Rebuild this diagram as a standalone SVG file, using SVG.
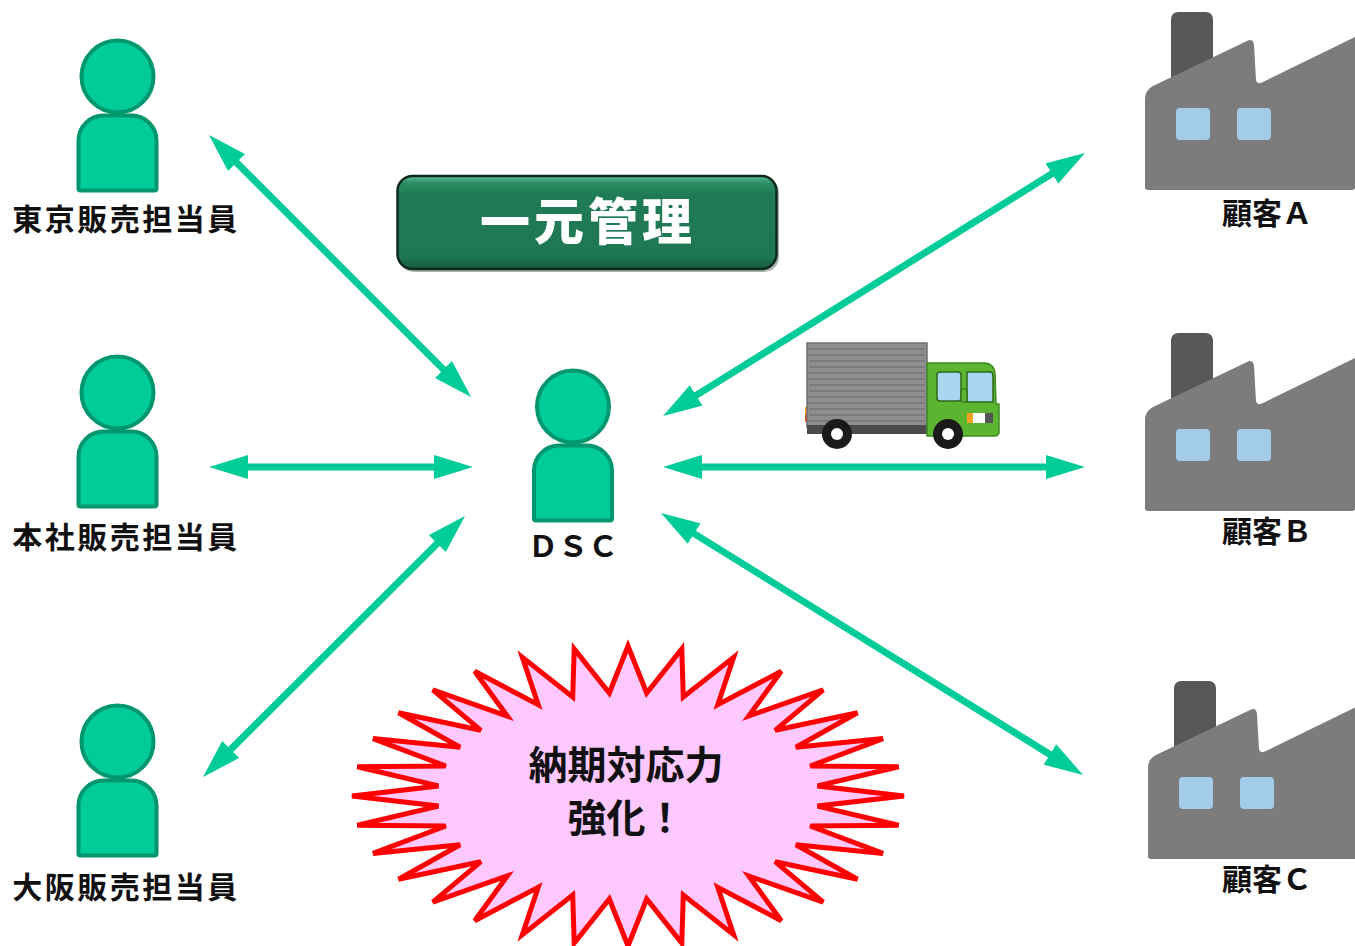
<svg xmlns="http://www.w3.org/2000/svg" width="1355" height="946" viewBox="0 0 1355 946">
  <defs>
    <style>
      .lbl { font-family: "Noto Sans CJK JP", "Noto Sans", sans-serif; font-weight: 700; fill: #111; }
      .person-body, .person-head { fill: #00CC99; stroke: #00976F; stroke-width: 4; }
      .link { stroke: #00CC99; stroke-width: 7; fill: none; marker-start: url(#head); marker-end: url(#head); }
      .plant { fill: #7C7C7C; }
      .stack { fill: #575757; }
      .pane { fill: #A3CBEA; }
    </style>
    <marker id="head" viewBox="0 0 39 24" markerWidth="39" markerHeight="24" refX="19" refY="12" orient="auto-start-reverse" markerUnits="userSpaceOnUse">
      <path d="M0,0 L39,12 L0,24 Z" fill="#00CC99"/>
    </marker>
    <linearGradient id="boxFill" x1="0" y1="0" x2="0" y2="1">
      <stop offset="0" stop-color="#5CBF94"/>
      <stop offset="0.08" stop-color="#2C8C63"/>
      <stop offset="0.2" stop-color="#1F7B55"/>
      <stop offset="0.86" stop-color="#1E7853"/>
      <stop offset="1" stop-color="#135A3C"/>
    </linearGradient>
    <!-- person icon, origin at the head centre -->
    <g id="person">
      <path class="person-body" d="M-39,112 V64 A25,25 0 0 1 -14,39 H14 A25,25 0 0 1 39,64 V112 Q39,114 37,114 H-37 Q-39,114 -39,112 Z"/>
      <circle class="person-head" cx="0" cy="0" r="36"/>
    </g>
    <!-- factory silhouette -->
    <g id="factory">
      <rect class="stack" x="1171" y="12" width="42" height="80" rx="7"/>
      <path class="plant" d="M1145,188 V99 Q1145,90 1153,86 L1247,41 Q1253,38 1254,45 L1256,80 Q1257,85 1263,82 L1355,37 V188 Q1355,190 1350,190 H1150 Q1145,190 1145,188 Z"/>
      <rect class="pane" x="1176" y="108" width="34" height="32" rx="4"/>
      <rect class="pane" x="1237" y="108" width="34" height="32" rx="4"/>
    </g>
  </defs>

  <rect width="1355" height="946" fill="#FFFFFF"/>

  <!-- connectors -->
  <g id="connectors">
    <line class="link" x1="223.1" y1="149.1" x2="456.9" y2="382.9"/>
    <line class="link" x1="229" y1="467" x2="453" y2="467"/>
    <line class="link" x1="217.2" y1="762.9" x2="450.8" y2="530.1"/>
    <line class="link" x1="680" y1="405.4" x2="1068" y2="163.6"/>
    <line class="link" x1="683" y1="467" x2="1065" y2="467"/>
    <line class="link" x1="678" y1="523.6" x2="1066" y2="764.5"/>
  </g>

  <!-- sales staff -->
  <g id="tokyo-sales">
    <use href="#person" x="117.5" y="76.5"/>
    <text class="lbl" x="126" y="230" font-size="30" letter-spacing="2.5" text-anchor="middle">東京販売担当員</text>
  </g>
  <g id="honsha-sales">
    <use href="#person" x="117.5" y="392.5"/>
    <text class="lbl" x="126" y="548" font-size="30" letter-spacing="2.5" text-anchor="middle">本社販売担当員</text>
  </g>
  <g id="osaka-sales">
    <use href="#person" x="117.5" y="741.5"/>
    <text class="lbl" x="126" y="898" font-size="30" letter-spacing="2.5" text-anchor="middle">大阪販売担当員</text>
  </g>

  <!-- central hub -->
  <g id="dsc">
    <use href="#person" x="573" y="406.5"/>
    <text class="lbl" x="573" y="557" font-size="30" text-anchor="middle">ＤＳＣ</text>
  </g>

  <!-- title badge -->
  <g id="title">
    <rect x="399" y="178" width="380" height="94" rx="15" fill="#0B2418" opacity="0.35"/>
    <rect x="397.5" y="176" width="379" height="93" rx="15" fill="url(#boxFill)" stroke="#0E2A1E" stroke-width="2.5"/>
    <text x="588" y="240" font-family="'Noto Sans CJK JP', sans-serif" font-weight="900" font-size="50" letter-spacing="4" fill="#FFFFFF" text-anchor="middle">一元管理</text>
  </g>

  <!-- customers -->
  <g id="customer-a">
    <use href="#factory"/>
    <text class="lbl" x="1267" y="224" font-size="30" text-anchor="middle">顧客Ａ</text>
  </g>
  <g id="customer-b">
    <use href="#factory" y="321"/>
    <text class="lbl" x="1267" y="542" font-size="30" text-anchor="middle">顧客Ｂ</text>
  </g>
  <g id="customer-c">
    <use href="#factory" x="3" y="669"/>
    <text class="lbl" x="1267" y="890" font-size="30" text-anchor="middle">顧客Ｃ</text>
  </g>

  <!-- delivery truck -->
  <g id="truck">
    <rect x="805" y="407" width="5" height="15" fill="#E8541E"/>
    <rect x="805" y="407" width="5" height="7" fill="#F5A01E"/>
    <rect x="807" y="343" width="120" height="84" fill="#8E8E8E" stroke="#6F6F6F" stroke-width="1.5"/>
    <g stroke="#747474" stroke-width="1.6">
      <line x1="809" y1="349" x2="925" y2="349"/>
      <line x1="809" y1="355" x2="925" y2="355"/>
      <line x1="809" y1="361" x2="925" y2="361"/>
      <line x1="809" y1="367" x2="925" y2="367"/>
      <line x1="809" y1="373" x2="925" y2="373"/>
      <line x1="809" y1="379" x2="925" y2="379"/>
      <line x1="809" y1="385" x2="925" y2="385"/>
      <line x1="809" y1="391" x2="925" y2="391"/>
      <line x1="809" y1="397" x2="925" y2="397"/>
      <line x1="809" y1="403" x2="925" y2="403"/>
      <line x1="809" y1="409" x2="925" y2="409"/>
      <line x1="809" y1="415" x2="925" y2="415"/>
      <line x1="809" y1="421" x2="925" y2="421"/>
    </g>
    <rect x="807" y="425" width="128" height="9" fill="#4B4B4B"/>
    <path d="M927,363 H984 Q994,363 995,374 L996,404 H999 V432 Q999,436 994,436 H927 Z" fill="#5CB531" stroke="#3F8A20" stroke-width="1.5"/>
    <rect x="937" y="372" width="24" height="29" rx="3" fill="#AAD6F2" stroke="#2E6A17" stroke-width="1.5"/>
    <path d="M967,372 H990 Q993,372 993,376 V402 H967 Z" fill="#AAD6F2" stroke="#2E6A17" stroke-width="1.5"/>
    <rect x="961" y="389" width="6" height="13" rx="2" fill="#5CB531" stroke="#2E6A17" stroke-width="1.2"/>
    <rect x="967" y="413" width="6" height="10" fill="#F5A01E"/>
    <rect x="973" y="413" width="12" height="10" fill="#FFFFFF"/>
    <rect x="985" y="413" width="8" height="10" fill="#555555"/>
    <circle cx="837" cy="434" r="15" fill="#1A1A1A"/>
    <circle cx="837" cy="434" r="6" fill="#FFFFFF"/>
    <circle cx="948" cy="434" r="15" fill="#1A1A1A"/>
    <circle cx="948" cy="434" r="6" fill="#FFFFFF"/>
  </g>

  <!-- 32-point burst callout -->
  <g id="burst">
    <polygon fill="#FFC9FF" stroke="#FF0000" stroke-width="5" stroke-linejoin="miter" stroke-miterlimit="4"
      points="904,796 817.5,785.9 898.7,766.7 810.2,766 883,738.6 795.9,747.2 857.5,712.7 775.2,730.3 823.2,689.9 748.8,716 781.3,671.3 717.8,704.7 733.6,657.4 683.3,697 681.8,648.9 646.7,693 628,646 609.3,693 574.2,648.9 572.7,697 522.4,657.4 538.2,704.7 474.7,671.3 507.2,716 432.8,689.9 480.8,730.3 398.5,712.7 460.1,747.2 373,738.6 445.8,766 357.3,766.7 438.5,785.9 352,796 438.5,806.1 357.3,825.3 445.8,826 373,853.4 460.1,844.8 398.5,879.3 480.8,861.7 432.8,902.1 507.2,876 474.7,920.7 538.2,887.3 522.4,934.6 572.7,895 574.2,943.1 609.3,899 628,946 646.7,899 681.8,943.1 683.3,895 733.6,934.6 717.8,887.3 781.3,920.7 748.8,876 823.2,902.1 775.2,861.7 857.5,879.3 795.9,844.8 883,853.4 810.2,826 898.7,825.3 817.5,806.1"/>
    <text class="lbl" x="626" y="779" font-size="39" text-anchor="middle">納期対応力</text>
    <text class="lbl" x="626" y="832" font-size="39" text-anchor="middle">強化！</text>
  </g>
</svg>
